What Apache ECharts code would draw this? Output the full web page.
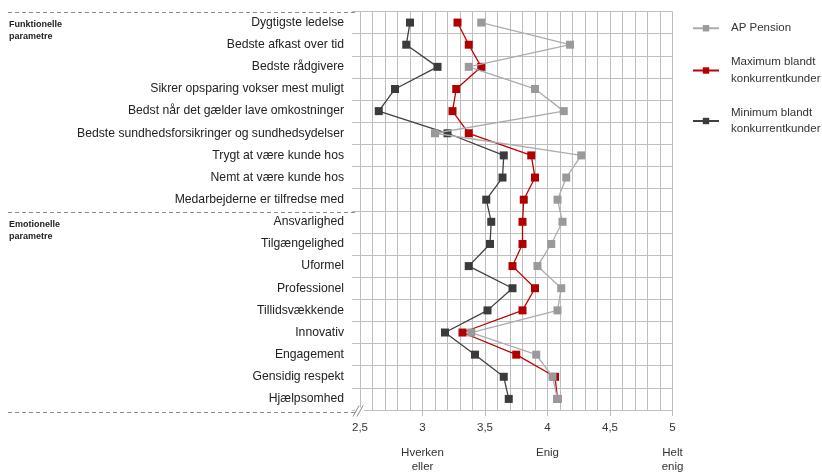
<!DOCTYPE html>
<html>
<head>
<meta charset="utf-8">
<script src="https://cdn.jsdelivr.net/npm/echarts@6/dist/echarts.min.js"></script>
<style>
html,body{margin:0;padding:0;background:#fff;}
#c{width:822px;height:474px;}
</style>
</head>
<body>
<div id="c"></div>
<script>
const categories = [
  'Dygtigste ledelse',
  'Bedste afkast over tid',
  'Bedste rådgivere',
  'Sikrer opsparing vokser mest muligt',
  'Bedst når det gælder lave omkostninger',
  'Bedste sundhedsforsikringer og sundhedsydelser',
  'Trygt at være kunde hos',
  'Nemt at være kunde hos',
  'Medarbejderne er tilfredse med',
  'Ansvarlighed',
  'Tilgængelighed',
  'Uformel',
  'Professionel',
  'Tillidsvækkende',
  'Innovativ',
  'Engagement',
  'Gensidig respekt',
  'Hjælpsomhed'
];
const apPension = [3.47, 4.18, 3.37, 3.90, 4.13, 3.10, 4.27, 4.15, 4.08, 4.12, 4.03, 3.92, 4.11, 4.08, 3.39, 3.91, 4.04, 4.08];
const maxKonkurrent = [3.28, 3.37, 3.47, 3.27, 3.24, 3.37, 3.87, 3.90, 3.81, 3.80, 3.80, 3.72, 3.90, 3.80, 3.32, 3.75, 4.06, 4.08];
const minKonkurrent = [2.90, 2.87, 3.12, 2.78, 2.65, 3.20, 3.65, 3.64, 3.51, 3.55, 3.54, 3.37, 3.72, 3.52, 3.18, 3.42, 3.65, 3.69];
const seriesNames = ['AP Pension', 'Maximum blandt\nkonkurrentkunder', 'Minimum blandt\nkonkurrentkunder'];
const scaleLabels = { 3: 'Hverken\neller', 4: 'Enig', 5: 'Helt\nenig' };
const groupLabels = ['Funktionelle\nparametre', 'Emotionelle\nparametre'];
const groupStarts = [0, 9];

const FONT = '"Liberation Sans", Arial, sans-serif';
const gridLeft = 360, gridTop = 11.5, gridW = 312.5, gridH = 400;
const rowH = gridH / categories.length;
const gridColor = '#bdbdbd';

const chart = echarts.init(document.getElementById('c'));

function pairs(arr) { return arr.map((v, i) => [v, categories[i]]); }

const graphics = [];
[0, 9, 18].forEach(k => {
  const y = Math.round(gridTop + k * rowH) + 0.5;
  graphics.push({
    type: 'line', silent: true,
    shape: { x1: 8, y1: y, x2: 356, y2: y },
    style: { stroke: '#8c8c8c', lineWidth: 1, lineDash: [4, 3] }
  });
});
groupStarts.forEach((k, i) => {
  graphics.push({
    type: 'text', silent: true,
    left: 9, top: gridTop + k * rowH + 7,
    style: { text: groupLabels[i], font: 'bold 9px ' + FONT, fill: '#222', lineHeight: 12 }
  });
});
const by = gridTop + gridH;
graphics.push({ type: 'rect', silent: true, shape: { x: 355, y: by - 4, width: 9, height: 8 }, style: { fill: '#fff' }, z: 50 });
graphics.push({ type: 'line', silent: true, shape: { x1: 353, y1: by + 5, x2: 359, y2: by - 6 }, style: { stroke: '#888', lineWidth: 1 }, z: 51 });
graphics.push({ type: 'line', silent: true, shape: { x1: 357, y1: by + 5, x2: 363, y2: by - 6 }, style: { stroke: '#888', lineWidth: 1 }, z: 51 });

const option = {
  animation: false,
  textStyle: { fontFamily: FONT },
  grid: { left: gridLeft, top: gridTop, width: gridW, height: gridH, containLabel: false },
  legend: {
    orient: 'vertical',
    left: 687, top: 15,
    itemWidth: 26, itemHeight: 8, itemGap: 17.5,
    data: seriesNames,
    textStyle: { fontFamily: FONT, fontSize: 11.5, color: '#333', lineHeight: 16.5, padding: [0, 0, 0, 7] }
  },
  xAxis: [{
    type: 'value', min: 2.5, max: 5, interval: 0.5,
    axisLine: { show: true, lineStyle: { color: gridColor } },
    axisTick: { show: true, length: 6, lineStyle: { color: gridColor } },
    axisLabel: { margin: 12, fontSize: 11.5, color: '#333', fontFamily: FONT, formatter: v => String(v).replace('.', ',') },
    splitLine: { show: true, lineStyle: { color: gridColor, width: 1 } },
    minorTick: { show: false, splitNumber: 5 },
    minorSplitLine: { show: true, lineStyle: { color: gridColor, width: 1 } }
  }, {
    type: 'value', min: 2.5, max: 5, interval: 0.5, position: 'bottom', offset: 28,
    axisLine: { show: false }, axisTick: { show: false }, splitLine: { show: false },
    axisLabel: { margin: 8, fontSize: 11.5, color: '#333', fontFamily: FONT, lineHeight: 14,
      formatter: v => scaleLabels[v] || '' }
  }],
  yAxis: {
    type: 'category', inverse: true, data: categories, boundaryGap: true,
    axisLine: { show: true, lineStyle: { color: gridColor } },
    axisTick: { show: true, length: 8, interval: 0, lineStyle: { color: gridColor } },
    axisLabel: { interval: 0, margin: 16, fontSize: 12.2, color: '#222', fontFamily: FONT, padding: [4, 0, 0, 0] },
    splitLine: { show: true, interval: 0, lineStyle: { color: gridColor, width: 1 } }
  },
  series: [
    {
      name: seriesNames[2], type: 'line', data: pairs(minKonkurrent),
      symbol: 'rect', symbolSize: 8,
      lineStyle: { color: '#404040', width: 1.3 },
      itemStyle: { color: '#3b3b3b' }, z: 3
    },
    {
      name: seriesNames[1], type: 'line', data: pairs(maxKonkurrent),
      symbol: 'rect', symbolSize: 8,
      lineStyle: { color: '#c00000', width: 1.3 },
      itemStyle: { color: '#b00000' }, z: 4
    },
    {
      name: seriesNames[0], type: 'line', data: pairs(apPension),
      symbol: 'rect', symbolSize: 8,
      lineStyle: { color: '#acacac', width: 1.3 },
      itemStyle: { color: '#9a9a9a' }, z: 5
    }
  ],
  graphic: graphics
};
chart.setOption(option);
</script>
</body>
</html>
